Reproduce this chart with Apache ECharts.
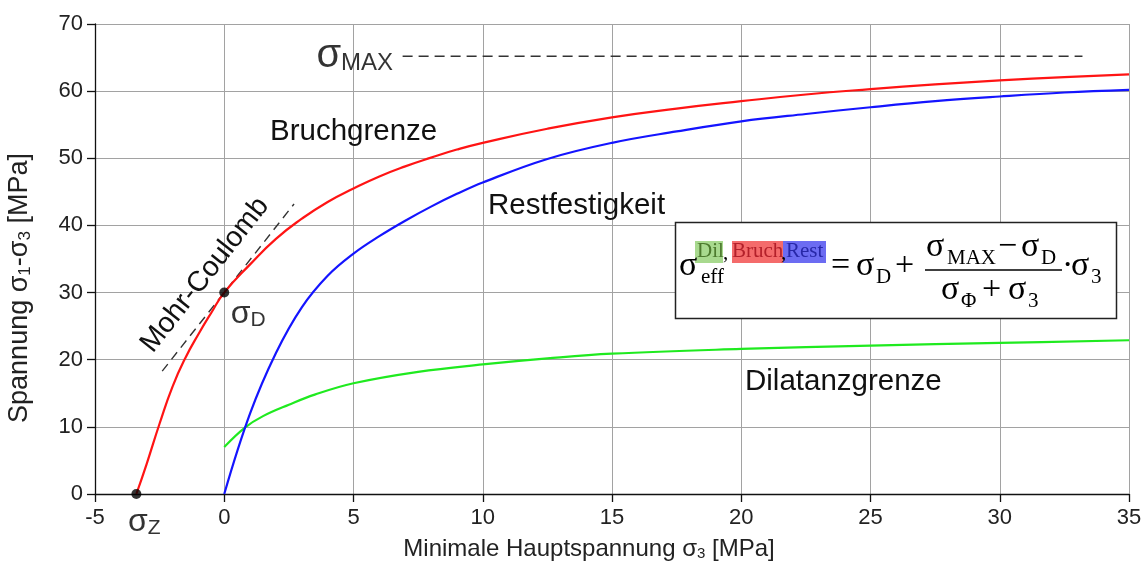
<!DOCTYPE html>
<html>
<head>
<meta charset="utf-8">
<title>Festigkeitsgrenzen</title>
<script src="https://cdn.jsdelivr.net/npm/echarts@6/dist/echarts.min.js"></script>
<style>
  html, body { margin: 0; padding: 0; background: #fff; }
  #chart { width: 1148px; height: 562px; }
</style>
</head>
<body>
<div id="chart"></div>
<script>
// Axis ranges and ticks (MPa)
const xTicks = { min: -5, max: 35, step: 5 };
const yTicks = { min: 0, max: 70, step: 10 };

// Bruchgrenze (failure limit): [sigma3, sigma1 - sigma3]
const bruch = [
  [-3.4, 0], [-3, 4.5], [-2.5, 10.5], [-2, 16.0], [-1.5, 20.3], [-1, 23.8], [-0.5, 27.0],
  [0, 30], [1, 34.2], [2, 38.0], [3, 41.0], [4, 43.5], [5, 45.5], [6, 47.3], [7, 48.8],
  [8, 50.1], [9, 51.3], [10, 52.3], [12.5, 54.4], [15, 56.1], [17.5, 57.4], [20, 58.5],
  [22.5, 59.5], [25, 60.3], [27.5, 61.0], [30, 61.6], [32.5, 62.1], [35, 62.5]
];

// Restfestigkeit (residual strength)
const rest = [
  [0, 0], [1, 12.0], [2, 21.0], [3, 27.8], [4, 32.5], [5, 35.8], [6, 38.4], [7, 40.7],
  [8, 42.8], [9, 44.7], [10, 46.4], [12.5, 49.9], [15, 52.3], [17.5, 54.0], [20, 55.5],
  [22.5, 56.6], [25, 57.6], [27.5, 58.5], [30, 59.2], [32.5, 59.8], [35, 60.2]
];

// Dilatanzgrenze (dilatancy limit)
const dil = [
  [0, 7.0], [0.8, 9.9], [1.5, 11.6], [2.5, 13.3], [3.5, 14.8], [5, 16.5], [7.5, 18.2],
  [10, 19.3], [12.5, 20.2], [15, 20.9], [20, 21.6], [25, 22.1], [30, 22.5], [35, 22.9]
];

// Mohr-Coulomb tangent through sigma_D
const mohrCoulomb = [[-2.4, 18.3], [2.7, 43.2]];

// sigma_MAX asymptote
const sigmaMax = [[6.9, 65.2], [33.2, 65.2]];

// Characteristic points: sigma_Z (tensile strength), sigma_D (uniaxial strength)
const sigmaZ = [-3.4, 0];
const sigmaD = [0, 30];

const SANS = 'Liberation Sans, Arial, sans-serif';
const SERIF = 'Liberation Serif, Times New Roman, serif';

// Text with its baseline placed at y (zrender centres text vertically)
function txt(x, baseline, str, size, opts) {
  opts = opts || {};
  return {
    type: 'text',
    x: x,
    y: baseline - size * (opts.family === SANS ? 0.36 : 0.34),
    z: 20,
    style: {
      text: str,
      fontSize: size,
      fontFamily: opts.family || SERIF,
      fill: opts.color || '#000',
      align: 'left',
      verticalAlign: 'middle'
    }
  };
}

// Formula box: sigma_eff = sigma_D + (sigma_MAX - sigma_D)/(sigma_Phi + sigma_3) * sigma_3
const BIG = 34, SMALL = 21;
const formula = [
  { type: 'rect', z: 18, shape: { x: 675.5, y: 222.5, width: 441, height: 96 },
    style: { fill: '#fff', stroke: '#222', lineWidth: 1.5 } },
  { type: 'rect', z: 19, shape: { x: 695, y: 241, width: 28, height: 22 }, style: { fill: '#a8d98e' } },
  { type: 'rect', z: 19, shape: { x: 732, y: 241, width: 51, height: 22 }, style: { fill: '#f46b6b' } },
  { type: 'rect', z: 19, shape: { x: 783, y: 241, width: 43, height: 22 }, style: { fill: '#6c6cf2' } },
  txt(679, 278, 'σ', BIG),
  txt(701, 285, 'eff', SMALL),
  txt(697, 259, 'Dil', SMALL, { color: '#4d7a2e' }),
  txt(723, 261, ',', SMALL),
  txt(732, 259, 'Bruch', SMALL, { color: '#b3202a' }),
  txt(781, 261, ',', SMALL),
  txt(786, 259, 'Rest', SMALL, { color: '#2828a8' }),
  txt(831, 278, '=', BIG),
  txt(856, 278, 'σ', BIG),
  txt(876, 285, 'D', SMALL),
  txt(895, 278, '+', BIG),
  txt(926, 259, 'σ', BIG),
  txt(947, 266, 'MAX', SMALL),
  txt(998, 259, '−', BIG),
  txt(1021, 259, 'σ', BIG),
  txt(1041, 266, 'D', SMALL),
  { type: 'line', z: 20, shape: { x1: 925, y1: 270, x2: 1062, y2: 270 },
    style: { stroke: '#000', lineWidth: 1.5 } },
  txt(941, 302, 'σ', BIG),
  txt(961, 309, 'Φ', SMALL),
  txt(982, 302, '+', BIG),
  txt(1008, 302, 'σ', BIG),
  txt(1028, 309, '3', SMALL),
  txt(1062, 278, '·', BIG),
  txt(1071, 278, 'σ', BIG),
  txt(1091, 285, '3', SMALL)
];

// Curve names and axis titles
const annotations = [
  txt(270, 142, 'Bruchgrenze', 29.5, { family: SANS, color: '#111' }),
  txt(488, 216, 'Restfestigkeit', 29.5, { family: SANS, color: '#111' }),
  txt(745, 392, 'Dilatanzgrenze', 29.5, { family: SANS, color: '#111' }),
  {
    type: 'text', x: 205, y: 275, rotation: 51.7 * Math.PI / 180, z: 20,
    style: { text: 'Mohr-Coulomb', fontSize: 28.5, fontFamily: SANS, fill: '#111',
             align: 'center', verticalAlign: 'middle' }
  },
  {
    type: 'text', x: 589, y: 549, z: 20,
    style: {
      text: '{a|Minimale Hauptspannung σ}{s|3}{a| [MPa]}',
      align: 'center', verticalAlign: 'middle',
      rich: {
        a: { fontSize: 24, fontFamily: SANS, fill: '#222' },
        s: { fontSize: 15, fontFamily: SANS, fill: '#222', padding: [10, 0, 0, 0] }
      }
    }
  },
  {
    type: 'text', x: 20, y: 288, rotation: Math.PI / 2, z: 20,
    style: {
      text: '{a|Spannung σ}{s|1}{a|-σ}{s|3}{a| [MPa]}',
      align: 'center', verticalAlign: 'middle',
      rich: {
        a: { fontSize: 27, fontFamily: SANS, fill: '#222' },
        s: { fontSize: 17, fontFamily: SANS, fill: '#222', padding: [10, 0, 0, 0] }
      }
    }
  }
];

const sigmaRich = {
  g: { fontSize: 32, fontFamily: SANS, color: '#000' },
  sub: { fontSize: 21, fontFamily: SANS, color: '#000', padding: [12, 0, 0, 0] },
  gm: { fontSize: 40, fontFamily: SANS, color: '#000' },
  subm: { fontSize: 24, fontFamily: SANS, color: '#000', padding: [14, 0, 0, 0] }
};

const chart = echarts.init(document.getElementById('chart'), null, { renderer: 'canvas' });

chart.setOption({
  animation: false,
  backgroundColor: '#fff',
  grid: { left: 95, right: 19, top: 24, bottom: 68, containLabel: false },
  xAxis: {
    type: 'value',
    min: xTicks.min, max: xTicks.max, interval: xTicks.step,
    axisLine: { onZero: false, lineStyle: { color: '#111', width: 1.3 } },
    axisTick: { show: true, length: 8, lineStyle: { color: '#111', width: 1.3 } },
    axisLabel: { fontSize: 22, color: '#222', fontFamily: SANS, margin: 13 },
    splitLine: { show: true, lineStyle: { color: '#a2a2a2', width: 1 } }
  },
  yAxis: {
    type: 'value',
    min: yTicks.min, max: yTicks.max, interval: yTicks.step,
    axisLine: { onZero: false, lineStyle: { color: '#111', width: 1.3 } },
    axisTick: { show: true, length: 8, lineStyle: { color: '#111', width: 1.3 } },
    axisLabel: { fontSize: 22, color: '#222', fontFamily: SANS, margin: 12 },
    splitLine: { show: true, lineStyle: { color: '#a2a2a2', width: 1 } }
  },
  series: [
    {
      name: 'Dilatanzgrenze', type: 'line', data: dil, smooth: 0.4,
      showSymbol: false, lineStyle: { color: '#1fea1f', width: 2.2 }, z: 3
    },
    {
      name: 'Restfestigkeit', type: 'line', data: rest, smooth: 0.4,
      showSymbol: false, lineStyle: { color: '#1414ff', width: 2.2 }, z: 3
    },
    {
      name: 'Bruchgrenze', type: 'line', data: bruch, smooth: 0.5,
      showSymbol: false, lineStyle: { color: '#ff1414', width: 2.2 }, z: 4
    },
    {
      name: 'Mohr-Coulomb', type: 'line', data: mohrCoulomb, showSymbol: false,
      lineStyle: { color: '#333', width: 1.4, type: [9, 6] }, z: 2
    },
    {
      name: 'sigmaMax', type: 'line', data: sigmaMax, showSymbol: false,
      lineStyle: { color: '#333', width: 1.6, type: [10, 6] }, z: 2
    },
    {
      name: 'sigmaMaxLabel', type: 'scatter', symbolSize: 1, z: 10,
      itemStyle: { color: 'rgba(0,0,0,0)' },
      data: [{
        value: sigmaMax[0],
        label: { show: true, position: 'left', distance: 9, color: '#000',
                 formatter: '{gm|σ}{subm|MAX}', rich: sigmaRich }
      }]
    },
    {
      name: 'points', type: 'scatter', symbol: 'circle', symbolSize: 10, z: 10,
      itemStyle: { color: '#000' },
      data: [
        { value: sigmaZ,
          label: { show: true, position: 'bottom', distance: 7, offset: [8, 0], color: '#000',
                   formatter: '{g|σ}{sub|Z}', rich: sigmaRich } },
        { value: sigmaD,
          label: { show: true, position: 'bottom', distance: 0, offset: [24, 0], color: '#000',
                   formatter: '{g|σ}{sub|D}', rich: sigmaRich } }
      ]
    }
  ],
  graphic: annotations.concat(formula)
});
</script>
</body>
</html>
